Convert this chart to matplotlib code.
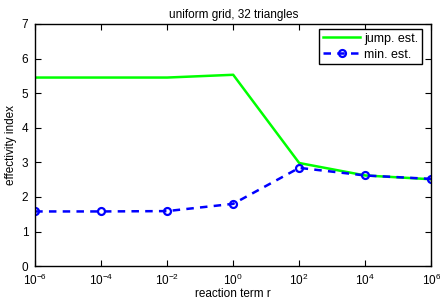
import matplotlib
matplotlib.use('Agg')
import matplotlib.pyplot as plt

# datos
r = [1e-6, 1e-4, 1e-2, 1e0, 1e2, 1e4, 1e6]
jump_est = [5.45, 5.45, 5.45, 5.53, 2.98, 2.62, 2.51]
min_est = [1.58, 1.58, 1.59, 1.80, 2.84, 2.62, 2.52]
xticks = [1e-6, 1e-4, 1e-2, 1e0, 1e2, 1e4, 1e6]
yticks = [0, 1, 2, 3, 4, 5, 6, 7]

plt.rcParams['font.family'] = ['Liberation Sans', 'DejaVu Sans']
plt.rcParams['mathtext.fontset'] = 'custom'
plt.rcParams['mathtext.rm'] = 'Liberation Sans'

fig = plt.figure(figsize=(4.4, 2.99), dpi=100)
ax = fig.add_axes([0.08, 0.11, 0.90, 0.81])

ax.semilogx(r, jump_est, color='#00ff00', lw=1.8, label='jump. est.')
ax.semilogx(r, min_est, color='#0000ff', lw=1.8, ls=(0, (3, 2.5)), marker='o',
            ms=5, mfc='none', mew=1.6, label='min. est.')

ax.set_xlim(1e-6, 1e6)
ax.set_ylim(0, 7)
ax.set_xticks(xticks)
ax.set_yticks(yticks)
ax.minorticks_off()
for s in ax.spines.values():
    s.set_linewidth(1.0)
ax.tick_params(direction='in', length=4, width=0.8, labelsize=8.5, top=True, right=True)
ax.tick_params(axis='x', pad=4.5)
ax.tick_params(axis='y', pad=5)
ax.set_xlabel('reaction term r', fontsize=8.5, labelpad=0)
ax.set_ylabel('effectivity index', fontsize=8.5, labelpad=3)
ax.set_title('uniform grid, 32 triangles', fontsize=8.5, pad=4)

leg = ax.legend(loc='upper right', bbox_to_anchor=(0.977, 0.979), borderaxespad=0,
                fontsize=9, fancybox=False, edgecolor='black', framealpha=1,
                handlelength=3.0, labelspacing=0.3, borderpad=0.3, handletextpad=0.3)
leg.get_frame().set_linewidth(1.0)

fig.savefig('out.png', dpi=100)
